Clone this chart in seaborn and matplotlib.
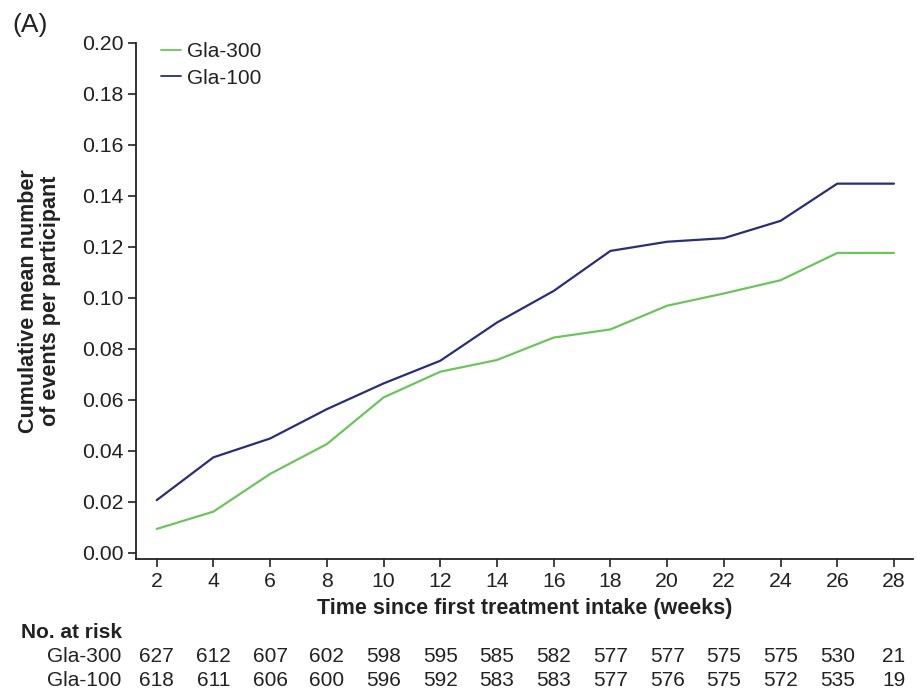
import matplotlib
matplotlib.use("Agg")
import matplotlib.pyplot as plt
import matplotlib.transforms as mtransforms
import seaborn as sns
import pandas as pd

weeks = [2, 4, 6, 8, 10, 12, 14, 16, 18, 20, 22, 24, 26, 28]
gla300 = [0.0093, 0.0161, 0.0309, 0.0426, 0.0609, 0.0710, 0.0756, 0.0844,
          0.0876, 0.0969, 0.1017, 0.1069, 0.1176, 0.1176]
gla100 = [0.0206, 0.0374, 0.0448, 0.0563, 0.0664, 0.0753, 0.0903, 0.1027,
          0.1184, 0.1220, 0.1234, 0.1302, 0.1448, 0.1448]
risk300 = [627, 612, 607, 602, 598, 595, 585, 582, 577, 577, 575, 575, 530, 21]
risk100 = [618, 611, 606, 600, 596, 592, 583, 583, 577, 576, 575, 572, 535, 19]
yticks = [0.00, 0.02, 0.04, 0.06, 0.08, 0.10, 0.12, 0.14, 0.16, 0.18, 0.20]

sns.set_style("ticks")
plt.rcParams['font.family'] = ['Liberation Sans', 'DejaVu Sans']

FS = 15
TXT = "#222222"

df = pd.DataFrame({
    "week": weeks * 2,
    "value": gla300 + gla100,
    "group": ["Gla-300"] * len(weeks) + ["Gla-100"] * len(weeks),
})

fig = plt.figure(figsize=(9.17, 6.92), dpi=100)
ax = fig.add_axes([0.148, 0.1918, 0.8476, 0.7461])

sns.lineplot(data=df, x="week", y="value", hue="group",
             palette={"Gla-300": "#6cc55c", "Gla-100": "#2a2e78"},
             linewidth=1.6, ax=ax, legend=True)

ax.set_xlim(1.26, 28.67)
ax.set_ylim(-0.0026, 0.20)
ax.set_xticks(weeks)
ax.set_xticklabels([str(w) for w in weeks])
ax.set_yticks(yticks)
ax.set_yticklabels([f"{t:.2f}" for t in yticks])
ax.tick_params(axis="both", labelsize=15.3, color=TXT, width=1.2,
               length=6, labelcolor=TXT, pad=3)
for s in ["top", "right"]:
    ax.spines[s].set_visible(False)
for s in ["left", "bottom"]:
    ax.spines[s].set_linewidth(1.3)
    ax.spines[s].set_color(TXT)

ax.set_xlabel("Time since first treatment intake (weeks)", fontsize=15.5,
              fontweight="bold", color=TXT, labelpad=5)
ax.set_ylabel("Cumulative mean number\nof events per participant", fontsize=15.5,
              fontweight="bold", color=TXT, labelpad=15, linespacing=1.05)

leg = ax.legend(loc="upper left", bbox_to_anchor=(0.176, 0.939),
                bbox_transform=fig.transFigure, frameon=False, fontsize=FS,
                handlelength=0.95, handletextpad=0.3, labelspacing=0.35,
                borderaxespad=0, borderpad=0)
for h in leg.get_lines():
    h.set_linewidth(1.3)
for t in leg.get_texts():
    t.set_color(TXT)

fig.text(0.013, 1 - 25 / 692, "(A)", fontsize=19, color=TXT, va="center", ha="left")

trans = mtransforms.blended_transform_factory(ax.transData, fig.transFigure)
fig.text(21 / 917, 1 - 632 / 692, "No. at risk", fontsize=FS, fontweight="bold",
         color=TXT, va="center", ha="left")
fig.text(47 / 917, 1 - 656 / 692, "Gla-300", fontsize=FS, color=TXT,
         va="center", ha="left")
fig.text(47 / 917, 1 - 681 / 692, "Gla-100", fontsize=FS, color=TXT,
         va="center", ha="left")
for w, a, b in zip(weeks, risk300, risk100):
    ax.text(w, 1 - 656 / 692, str(a), transform=trans, fontsize=FS,
            color=TXT, ha="center", va="center")
    ax.text(w, 1 - 681 / 692, str(b), transform=trans, fontsize=FS,
            color=TXT, ha="center", va="center")

fig.savefig("out.png", dpi=100)
